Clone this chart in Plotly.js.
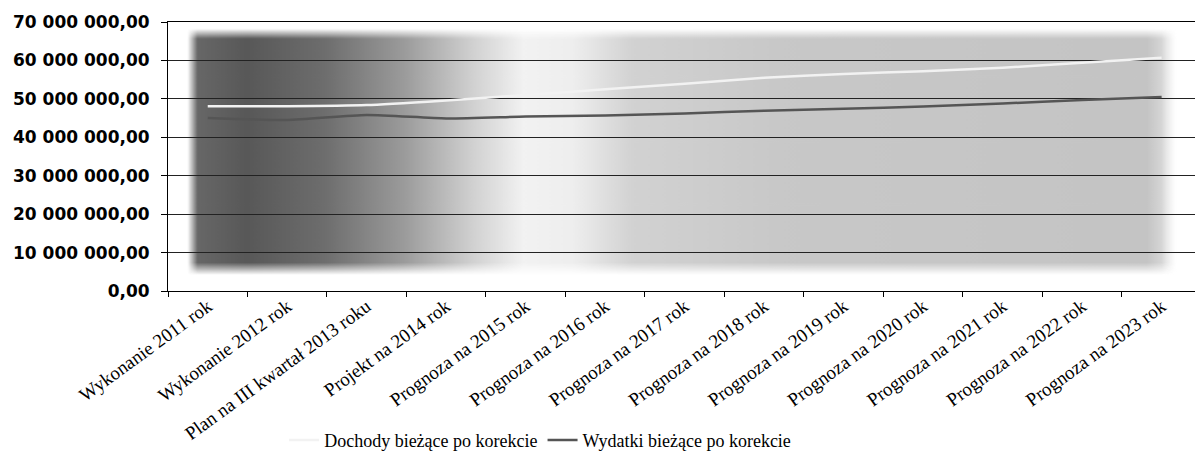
<!DOCTYPE html>
<html>
<head>
<meta charset="utf-8">
<script src="https://cdn.plot.ly/plotly-3.0.1.min.js"></script>
<style>html,body{margin:0;padding:0;background:#fff;overflow:hidden}#chart{width:1195px;height:453px}</style>
</head>
<body>
<div id="chart"></div>
<script>
// ---- data ----
const categories = [
  "Wykonanie 2011 rok",
  "Wykonanie 2012 rok",
  "Plan na III kwartał 2013 roku",
  "Projekt na 2014 rok",
  "Prognoza na 2015 rok",
  "Prognoza na 2016 rok",
  "Prognoza na 2017 rok",
  "Prognoza na 2018 rok",
  "Prognoza na 2019 rok",
  "Prognoza na 2020 rok",
  "Prognoza na 2021 rok",
  "Prognoza na 2022 rok",
  "Prognoza na 2023 rok"
];
const dochody = [48100000, 48100000, 48400000, 49600000, 51000000, 52500000, 53900000, 55500000, 56500000, 57200000, 58100000, 59400000, 60700000];
const wydatki = [45000000, 44500000, 45800000, 44900000, 45400000, 45700000, 46200000, 46900000, 47400000, 48000000, 48800000, 49700000, 50500000];
const seriesNames = ["Dochody bieżące po korekcie", "Wydatki bieżące po korekcie"];
const yTickVals = [0, 10000000, 20000000, 30000000, 40000000, 50000000, 60000000, 70000000];
const yTickText = ["0,00", "10 000 000,00", "20 000 000,00", "30 000 000,00", "40 000 000,00", "50 000 000,00", "60 000 000,00", "70 000 000,00"];

// ---- background texture (decorative gradient, like the scanned shading) ----
function makeBackground() {
  const w = 1000, h = 250;
  const c = document.createElement('canvas');
  c.width = w; c.height = h;
  const g = c.getContext('2d');
  const lg = g.createLinearGradient(0, 0, w, 0);
  lg.addColorStop(0.00, '#6a6a6a');
  lg.addColorStop(0.06, '#585858');
  lg.addColorStop(0.14, '#6e6e6e');
  lg.addColorStop(0.22, '#9c9c9c');
  lg.addColorStop(0.29, '#d2d2d2');
  lg.addColorStop(0.34, '#f2f2f2');
  lg.addColorStop(0.39, '#eeeeee');
  lg.addColorStop(0.45, '#d2d2d2');
  lg.addColorStop(0.60, '#c8c8c8');
  lg.addColorStop(0.97, '#c4c4c4');
  lg.addColorStop(1.00, '#e8e8e8');
  g.fillStyle = lg;
  g.fillRect(0, 0, w, h);
  g.globalCompositeOperation = 'destination-in';
  const vg = g.createLinearGradient(0, 0, 0, h);
  vg.addColorStop(0.0, 'rgba(0,0,0,0)');
  vg.addColorStop(0.04, 'rgba(0,0,0,1)');
  vg.addColorStop(0.95, 'rgba(0,0,0,1)');
  vg.addColorStop(1.0, 'rgba(0,0,0,0)');
  g.fillStyle = vg;
  g.fillRect(0, 0, w, h);
  const hg = g.createLinearGradient(0, 0, w, 0);
  hg.addColorStop(0.0, 'rgba(0,0,0,0)');
  hg.addColorStop(0.01, 'rgba(0,0,0,1)');
  hg.addColorStop(0.985, 'rgba(0,0,0,1)');
  hg.addColorStop(1.0, 'rgba(0,0,0,0)');
  g.fillStyle = hg;
  g.fillRect(0, 0, w, h);
  return c.toDataURL('image/png');
}

const traces = [
  {
    x: categories, y: dochody, name: seriesNames[0], type: 'scatter', mode: 'lines',
    line: {color: '#f2f2f2', width: 2.5, shape: 'spline', smoothing: 0.6}
  },
  {
    x: categories, y: wydatki, name: seriesNames[1], type: 'scatter', mode: 'lines',
    line: {color: '#555555', width: 2.5, shape: 'spline', smoothing: 0.6}
  }
];

const layout = {
  width: 1195, height: 453,
  margin: {l: 168, r: 0, t: 22, b: 162},
  paper_bgcolor: '#ffffff', plot_bgcolor: 'rgba(0,0,0,0)',
  showlegend: true,
  legend: {
    orientation: 'h', xref: 'container', yref: 'container',
    x: 0.452, xanchor: 'center', y: 0.028, yanchor: 'middle',
    font: {family: 'Liberation Serif, serif', size: 18, color: '#000'},
    bgcolor: 'rgba(0,0,0,0)'
  },
  xaxis: {
    type: 'category', range: [-0.5, 12.42],
    tickson: 'boundaries', ticks: 'outside', ticklen: 5, tickcolor: '#000',
    showline: true, linecolor: '#000', linewidth: 1, mirror: true,
    showgrid: false, tickangle: -36, ticklabelstandoff: -4,
    tickfont: {family: 'Liberation Serif, serif', size: 19, color: '#000'}
  },
  yaxis: {
    range: [0, 70000000], tickvals: yTickVals, ticktext: yTickText,
    ticks: 'outside', ticklen: 6, tickcolor: '#000', ticklabelstandoff: 8,
    showline: true, linecolor: '#000', linewidth: 1,
    showgrid: true, gridcolor: '#222222', gridwidth: 1, zeroline: false,
    tickfont: {family: 'DejaVu Sans, sans-serif', size: 17, color: '#000', weight: 'bold'}
  },
  images: [{
    source: makeBackground(), xref: 'paper', yref: 'paper',
    x: 0.019, y: 0.975, sizex: 0.963, sizey: 0.915,
    xanchor: 'left', yanchor: 'top', sizing: 'stretch', layer: 'below'
  }]
};

Plotly.newPlot('chart', traces, layout, {displayModeBar: false, staticPlot: true});
</script>
</body>
</html>
